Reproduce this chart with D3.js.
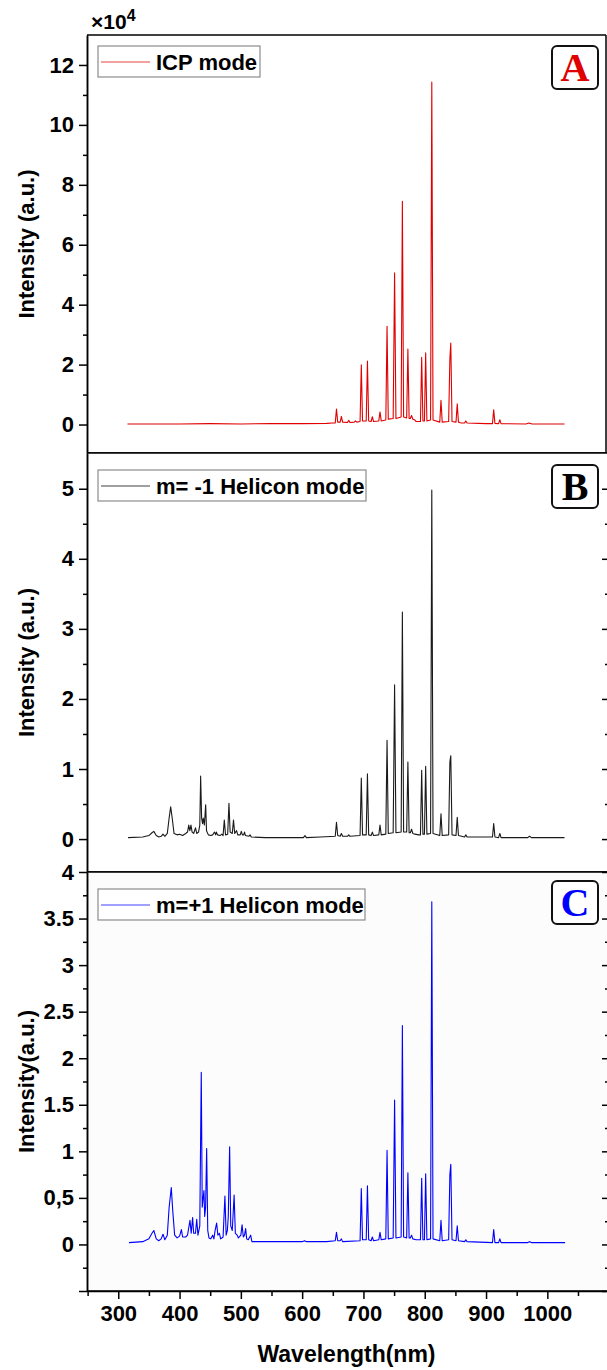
<!DOCTYPE html>
<html lang="en">
<head>
<meta charset="UTF-8">
<title>Emission spectra: ICP and helicon modes</title>
<style>
  body { margin: 0; background: #fff; }
  svg { display: block; }
  text { font-family: "Liberation Sans", Arial, sans-serif; font-weight: bold; fill: #000; }
  .tag { font-family: "Liberation Serif", "Times New Roman", serif; font-weight: bold; }
  .axis path, .axis line { stroke: #000; stroke-width: 1.5; }
</style>
</head>
<body>
<svg></svg>
<script src="https://d3js.org/d3.v7.min.js"></script>
<script>

// ---- data ----
// wavelength in nm, intensity in x10^4 counts for A, arbitrary units for B and C

const wavelengthTicks = [300, 400, 500, 600, 700, 800, 900, 1000];
const wavelengthMinor = [250, 350, 450, 550, 650, 750, 850, 950, 1050];

const icpTicks = [0, 2, 4, 6, 8, 10, 12];
const icpMinor = [1, 3, 5, 7, 9, 11];
const helMinusTicks = [0, 1, 2, 3, 4, 5];
const helMinusMinor = [0.5, 1.5, 2.5, 3.5, 4.5];
const helPlusTicks = [-0.5, 0, 0.5, 1, 1.5, 2, 2.5, 3, 3.5, 4];
const helPlusLabels = ['', '0', '0,5', '1', '1.5', '2', '2.5', '3', '3.5', '4'];
const helPlusMinor = [-0.25, 0.25, 0.75, 1.25, 1.75, 2.25, 2.75, 3.25, 3.75];

const icpSpectrum = [
  [315,0.02],[360,0.02],[400,0.02],[450,0.03],[500,0.02],[550,0.03],[600,0.03],[640,0.04],[650,0.05],
  [654,0.05],[656,0.52],[658,0.08],[662,0.08],[664,0.27],[666,0.08],
  [674,0.07],[676,0.14],[678,0.07],[685,0.08],[687,0.12],[689,0.08],
  [694.5,0.1],[696.5,1.99],[698.5,0.12],[704.5,0.12],[706.5,2.12],[708.5,0.12],
  [712.5,0.1],[714.5,0.26],[716.5,0.1],[725,0.12],[727,0.42],[729,0.12],
  [736.5,0.15],[738.5,3.28],[740.5,0.18],[748.5,0.2],[750.8,5.06],[753,0.2],
  [761.5,0.25],[763.5,7.45],[765.5,0.25],[770.5,0.22],[772.5,2.52],[774.5,0.2],
  [776.5,0.2],[778.5,0.3],[780.5,0.18],[782,0.17],[784,0.15],[786,0.1],[790,0.1],
  [793,0.1],[795,2.24],[797,0.12],[799.5,0.12],[801.5,2.39],[803.5,0.12],
  [809.5,0.15],[811.5,11.43],[813.5,0.15],[824.5,0.08],[826.5,0.81],[828.5,0.08],
  [839,0.1],[841,2.2],[842.5,2.72],[844.5,0.1],[851,0.08],[853,0.69],[855,0.08],
  [858,0.06],[860,0.05],[865,0.05],[867,0.12],[869,0.05],[900,0.03],
  [910.5,0.03],[912.5,0.49],[914.5,0.04],[920.5,0.03],[922.5,0.16],[924.5,0.03],
  [965,0.02],[970,0.05],[975,0.02],[1000,0.02],[1028,0.02]
];

const helMinusSpectrum = [
  [316,0.02],[340,0.03],[350,0.05],[355,0.09],[358,0.11],[362,0.05],[366,0.03],
  [370,0.04],[373,0.07],[376,0.04],[380,0.08],[383,0.3],[385.5,0.46],[388,0.3],[391,0.08],
  [396,0.06],[400,0.07],[405,0.05],[410,0.08],[413,0.1],[415,0.2],[416.8,0.12],[418.6,0.2],
  [420.5,0.1],[423,0.08],[426,0.16],[428,0.08],[431,0.1],[433,0.2],[434.4,0.9],[436,0.3],
  [437.5,0.22],[438.7,0.3],[440.5,0.2],[442.6,0.49],[444,0.12],[447,0.06],[451,0.05],
  [454,0.06],[457,0.1],[459,0.06],[460,0.1],[462,0.06],[466,0.05],[469,0.07],[471,0.05],
  [473,0.27],[475,0.06],[478.5,0.07],[480.6,0.51],[482.5,0.1],[486,0.08],[488,0.27],
  [490,0.08],[493,0.12],[495,0.06],[499,0.06],[500.7,0.11],[502.5,0.06],[504.5,0.06],
  [506,0.1],[507.5,0.05],[513,0.04],[515,0.06],[517,0.03],[540,0.02],[580,0.02],
  [602,0.02],[604.6,0.05],[607,0.02],[630,0.03],
  [654,0.04],[656,0.24],[658,0.05],[662,0.04],[664,0.08],[666,0.04],
  [674,0.04],[676,0.06],[678,0.04],[694.5,0.05],[696.5,0.87],[698.5,0.06],
  [704.5,0.06],[706.5,0.93],[708.5,0.06],[712.5,0.05],[714.5,0.1],[716.5,0.05],
  [725,0.06],[727,0.2],[729,0.06],[736.5,0.07],[738.5,1.41],[740.5,0.08],
  [748.5,0.09],[750.8,2.2],[753,0.09],[761.5,0.1],[763.5,3.24],[765.5,0.1],
  [770.5,0.1],[772.5,1.1],[774.5,0.09],[776.5,0.09],[778.5,0.14],[780.5,0.08],
  [784,0.07],[790,0.06],[793,0.06],[795,0.98],[797,0.07],[799.5,0.07],[801.5,1.04],[803.5,0.07],
  [809.5,0.08],[811.5,4.98],[813.5,0.08],[824.5,0.05],[826.5,0.36],[828.5,0.05],
  [839,0.06],[841,1.1],[842.5,1.19],[844.5,0.06],[851,0.05],[853,0.31],[855,0.05],
  [865,0.03],[867,0.06],[869,0.03],[910.5,0.03],[912.5,0.22],[914.5,0.03],
  [920.5,0.02],[922.5,0.08],[924.5,0.02],[968,0.02],[971,0.04],[974,0.02],[1028,0.02]
];

const helPlusSpectrum = [
  [317.5,0.02],[340,0.03],[350,0.06],[355,0.12],[358,0.15],[362,0.06],[366,0.04],
  [370,0.06],[373,0.11],[376,0.05],[380,0.1],[383,0.4],[386.5,0.61],[389,0.35],[392,0.1],
  [396,0.07],[400,0.09],[403,0.16],[405,0.08],[410,0.08],[413,0.1],[417,0.26],[419,0.12],
  [421.3,0.29],[423,0.12],[426,0.12],[428,0.27],[430,0.1],[433,0.2],[435.4,1.85],[437,0.4],
  [438.5,0.5],[439.8,0.58],[441,0.3],[442.5,0.4],[444.2,1.03],[446,0.15],[448,0.07],
  [451,0.06],[454,0.1],[456,0.06],[458,0.15],[460.5,0.23],[462.5,0.1],[465,0.12],[467,0.06],
  [471,0.08],[474,0.52],[476,0.1],[478,0.15],[479.5,0.3],[481.7,1.05],[483.5,0.2],[486,0.15],
  [489,0.53],[491,0.12],[494,0.1],[496,0.07],[500,0.1],[502,0.21],[504,0.08],[506,0.1],
  [507.8,0.17],[509.5,0.06],[512,0.05],[516,0.1],[518,0.03],[540,0.03],[570,0.03],
  [600,0.03],[604,0.04],[607,0.03],[640,0.03],
  [654,0.04],[656,0.13],[658,0.04],[662,0.04],[664,0.06],[666,0.03],
  [694.5,0.04],[696.5,0.6],[698.5,0.05],[704.5,0.05],[706.5,0.63],[708.5,0.05],
  [712.5,0.04],[714.5,0.08],[716.5,0.04],[725,0.05],[727,0.13],[729,0.05],
  [736.5,0.06],[738.5,1.01],[740.5,0.06],[748.5,0.07],[750.8,1.55],[753,0.07],
  [761.5,0.08],[763.5,2.35],[765.5,0.08],[770.5,0.07],[772.5,0.77],[774.5,0.07],
  [776.5,0.07],[778.5,0.1],[780.5,0.06],[786,0.05],[790,0.05],
  [793,0.05],[795,0.71],[797,0.05],[799.5,0.05],[801.5,0.76],[803.5,0.05],
  [809.5,0.06],[811.5,3.68],[813.5,0.06],[824.5,0.04],[826.5,0.26],[828.5,0.04],
  [839,0.05],[841,0.75],[842.5,0.86],[844.5,0.05],[851,0.04],[853,0.2],[855,0.04],
  [865,0.03],[867,0.05],[869,0.03],[910.5,0.02],[912.5,0.16],[914.5,0.02],
  [920.5,0.02],[922.5,0.06],[924.5,0.02],[968,0.02],[971,0.03],[974,0.02],[1029,0.02]
];

// ---- layout ----
var svg = d3.select('svg').attr('width', 607).attr('height', 1370);

const settings = {
  left: 87,
  right: 606,
  farRight: 610,
  labelSize: 22
};

var x = d3.scaleLinear().domain([249, 1095.7]).range([settings.left, settings.right]);

const panels = [
  { data: icpSpectrum, color: '#e00000', legendColor: '#ee8080', name: 'ICP mode', tag: 'A',
    top: 35, bottom: 453, domain: [-0.95, 13], ticks: icpTicks, minor: icpMinor,
    labels: icpTicks.map(String), ylabel: 'Intensity (a.u.)', rightEdge: settings.right,
    rightTicks: false, bg: '#fff', legendWidth: 162 },
  { data: helMinusSpectrum, color: '#1a1a1a', legendColor: '#808080', name: 'm= -1 Helicon mode', tag: 'B',
    top: 453, bottom: 872, domain: [-0.47, 5.51], ticks: helMinusTicks, minor: helMinusMinor,
    labels: helMinusTicks.map(String), ylabel: 'Intensity (a.u.)', rightEdge: settings.farRight,
    rightTicks: true, bg: '#fff', legendWidth: 268 },
  { data: helPlusSpectrum, color: '#0000ff', legendColor: '#8080ff', name: 'm=+1 Helicon mode', tag: 'C',
    top: 872, bottom: 1291, domain: [-0.5, 4], ticks: helPlusTicks, minor: helPlusMinor,
    labels: helPlusLabels, ylabel: 'Intensity(a.u.)', rightEdge: settings.farRight,
    rightTicks: true, bg: '#fcfcfc', legendWidth: 267 }
];

panels.forEach(function(p, i) {
  var y = d3.scaleLinear().domain(p.domain).range([p.bottom, p.top]);
  var g = svg.append('g');
  var w = p.rightEdge - settings.left;
  var tagColor = i === 1 ? '#000' : p.color;

  g.append('rect')
    .attr('x', settings.left).attr('y', p.top)
    .attr('width', w).attr('height', p.bottom - p.top)
    .attr('fill', p.bg);

  // spectrum
  var line = d3.line().x(d => x(d[0])).y(d => y(d[1]));
  g.append('path')
    .datum(p.data)
    .attr('d', line)
    .attr('fill', 'none')
    .attr('stroke', p.color)
    .attr('stroke-width', 1.1)
    .attr('stroke-linejoin', 'round');

  // frame: top and right
  g.append('line')
    .attr('x1', settings.left).attr('x2', p.rightEdge)
    .attr('y1', p.top).attr('y2', p.top)
    .attr('stroke', '#000').attr('stroke-width', 1.5);
  g.append('line')
    .attr('x1', p.rightEdge).attr('x2', p.rightEdge)
    .attr('y1', p.top).attr('y2', p.bottom)
    .attr('stroke', '#000').attr('stroke-width', 1.5);

  // y axis
  var labelFor = d => p.labels[p.ticks.indexOf(d)];
  g.append('g').attr('class', 'axis')
    .attr('transform', `translate(${settings.left},0)`)
    .call(d3.axisLeft(y).tickValues(p.minor).tickSize(4).tickSizeOuter(0).tickFormat(''));
  g.append('g').attr('class', 'axis')
    .attr('transform', `translate(${settings.left},0)`)
    .call(d3.axisLeft(y).tickValues(p.ticks).tickSize(8).tickSizeOuter(0).tickPadding(5).tickFormat(labelFor))
    .selectAll('text')
      .style('font-size', settings.labelSize + 'px')
      .attr('fill', '#000');

  if (p.rightTicks) {
    g.append('g').attr('class', 'axis')
      .attr('transform', `translate(${p.rightEdge},0)`)
      .call(d3.axisLeft(y).tickValues(p.minor).tickSize(5).tickSizeOuter(0).tickFormat(''));
    g.append('g').attr('class', 'axis')
      .attr('transform', `translate(${p.rightEdge},0)`)
      .call(d3.axisLeft(y).tickValues(p.ticks).tickSize(8).tickSizeOuter(0).tickFormat(''));
  }

  // x axis at the bottom of every panel, labels only on the last
  var last = i === panels.length - 1;
  var xMinor = d3.axisBottom(x).tickValues(wavelengthMinor).tickSize(5).tickSizeOuter(0).tickFormat('');
  var xMajor = d3.axisBottom(x).tickValues(wavelengthTicks).tickSize(8).tickSizeOuter(0).tickPadding(6)
    .tickFormat(last ? d3.format('d') : '');
  g.append('g').attr('class', 'axis')
    .attr('transform', `translate(0,${p.bottom})`)
    .call(xMinor);
  var xa = g.append('g').attr('class', 'axis')
    .attr('transform', `translate(0,${p.bottom})`)
    .call(xMajor);
  xa.select('.domain').attr('d', `M${settings.left},0H${p.rightEdge}`);
  xa.selectAll('text').style('font-size', settings.labelSize + 'px').attr('fill', '#000');

  // y label
  g.append('text')
    .attr('transform', `translate(34,${(p.top + p.bottom) / 2}) rotate(-90)`)
    .attr('text-anchor', 'middle')
    .style('font-size', '22px')
    .text(p.ylabel);

  // legend
  var lx = settings.left + 11, ly = p.top + (i === 0 ? 11 : 17);
  g.append('rect')
    .attr('x', lx).attr('y', ly).attr('width', p.legendWidth).attr('height', 31)
    .attr('fill', '#fff').attr('stroke', '#8c8c8c').attr('stroke-width', 1.2);
  g.append('line')
    .attr('x1', lx + 3).attr('x2', lx + 52)
    .attr('y1', ly + 16).attr('y2', ly + 16)
    .attr('stroke', p.legendColor).attr('stroke-width', 1.5);
  g.append('text')
    .attr('x', lx + 58).attr('y', ly + 24)
    .style('font-size', '22px')
    .text(p.name);

  // panel tag
  var ty = p.top + (i === 0 ? 11 : (i === 1 ? 12 : 9));
  g.append('rect')
    .attr('x', 552).attr('y', ty).attr('width', 46).attr('height', 43)
    .attr('rx', 5).attr('ry', 5)
    .attr('fill', '#fff').attr('stroke', '#111').attr('stroke-width', 2);
  g.append('text')
    .attr('class', 'tag')
    .attr('x', 575).attr('y', ty + 35)
    .attr('text-anchor', 'middle')
    .style('font-size', '40px')
    .style('fill', tagColor)
    .text(p.tag);
});

// multiplier for panel A
var mult = svg.append('text').attr('x', 91).attr('y', 29).style('font-size', '21px');
mult.append('tspan').text('\u00d710');
mult.append('tspan').attr('dy', -8).style('font-size', '16px').text('4');

// x title
svg.append('text')
  .attr('x', (settings.left + settings.right) / 2)
  .attr('y', 1362)
  .attr('text-anchor', 'middle')
  .style('font-size', '23px')
  .text('Wavelength(nm)');

</script>
</body>
</html>
